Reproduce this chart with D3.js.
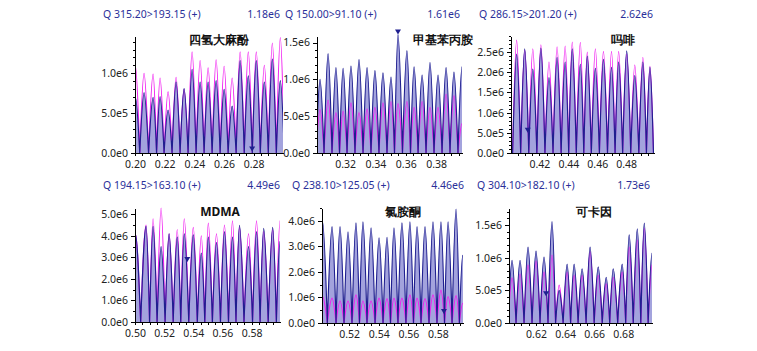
<!DOCTYPE html>
<html>
<head>
<meta charset="utf-8">
<script src="https://cdn.jsdelivr.net/npm/d3@7/dist/d3.min.js"></script>
<style>
body { margin: 0; background: #fff; }
text { font-family: "Noto Sans", "Open Sans", sans-serif; }
</style>
</head>
<body>
<div id="chart-area"></div>
<script>
/*
*    six MRM chromatogram panels
*    intensities below are in millions of counts
*/

var titles = ["Q 315.20>193.15 (+)", "Q 150.00>91.10 (+)", "Q 286.15>201.20 (+)",
              "Q 194.15>163.10 (+)", "Q 238.10>125.05 (+)", "Q 304.10>182.10 (+)"]
var maxLabels = ["1.18e6", "1.61e6", "2.62e6", "4.49e6", "4.46e6", "1.73e6"]
var names = ["四氢大麻酚", "甲基苯丙胺", "吗啡", "MDMA", "氯胺酮", "可卡因"]

// time ranges (min) and intensity ranges
var xDomains = [[0.200, 0.2998], [0.3015, 0.3971], [0.4003, 0.4993],
                [0.500, 0.5995], [0.5016, 0.5970], [0.6014, 0.6998]]
var yMax = [1.47, 1.59, 2.90, 5.30, 4.50, 1.76]
var yMajorTicks = [[0, 0.5, 1.0], [0, 0.5, 1.0, 1.5], [0, 0.5, 1.0, 1.5, 2.0, 2.5],
                   [0, 1, 2, 3, 4, 5], [0, 1, 2, 3, 4], [0, 0.5, 1.0, 1.5]]
var yMinorStep = [0.1, 0.1, 0.1, 0.5, 0.5, 0.1]

// peak apex times and heights
var p1Times = [0.2003, 0.2061, 0.2122, 0.2169, 0.2223, 0.2277, 0.2331, 0.2385, 0.2439, 0.2493,
               0.2547, 0.2601, 0.2655, 0.2709, 0.2764, 0.2818, 0.2872, 0.2926, 0.2980]
var p1Navy = [0.70, 0.76, 0.70, 0.71, 0.54, 0.89, 0.81, 1.05, 0.89, 0.89,
              0.91, 0.80, 0.59, 1.16, 0.97, 1.16, 0.89, 1.18, 0.91]
var p1Magenta = [1.09, 1.00, 0.99, 0.94, 0.77, 0.95, 0.80, 1.27, 1.16, 1.07,
                 1.17, 1.09, 0.94, 1.27, 1.27, 1.27, 1.10, 1.38, 1.45]

var p2Times = [0.3035, 0.3088, 0.3140, 0.3187, 0.3239, 0.3292, 0.3345, 0.3397, 0.3450, 0.3503,
               0.3549, 0.3608, 0.3655, 0.3708, 0.3760, 0.3813, 0.3866, 0.3918, 0.3971]
var p2Navy = [1.00, 1.35, 1.16, 1.15, 1.18, 1.27, 1.16, 1.12, 1.09, 1.03,
              1.61, 1.39, 1.17, 1.06, 1.23, 1.06, 1.16, 1.10, 1.17]
var p2Magenta = [0.59, 0.72, 0.55, 0.57, 0.68, 0.55, 0.60, 0.62, 0.68, 0.70,
                 0.67, 0.70, 0.62, 0.70, 0.62, 0.62, 0.80, 0.78, 0.40]

var p3Times = [0.4042, 0.4098, 0.4154, 0.4210, 0.4266, 0.4322, 0.4378, 0.4427, 0.4483,
               0.4531, 0.4587, 0.4643, 0.4699, 0.4748, 0.4804, 0.4860, 0.4916, 0.4965]
var p3Navy = [2.45, 2.58, 2.08, 2.60, 1.87, 2.37, 2.25, 2.58, 2.20,
              2.40, 2.10, 2.32, 2.12, 2.25, 2.53, 1.92, 2.25, 2.12]
var p3Magenta = [2.80, 2.55, 2.58, 2.68, 2.25, 2.63, 2.65, 2.75, 2.74,
                 2.50, 2.58, 2.52, 2.52, 2.52, 2.45, 2.18, 2.37, 2.15]

var p4Times = [0.5002, 0.5076, 0.5124, 0.5179, 0.5234, 0.5290, 0.5338, 0.5400, 0.5455, 0.5503,
               0.5559, 0.5614, 0.5669, 0.5717, 0.5779, 0.5834, 0.5883, 0.5945, 0.5995]
var p4Navy = [4.10, 4.45, 4.45, 3.50, 4.10, 3.95, 4.10, 4.05, 3.20, 3.95,
              3.70, 4.20, 3.95, 4.49, 3.50, 4.20, 4.35, 4.40, 3.75]
var p4Magenta = [4.10, 4.50, 4.80, 5.30, 4.10, 4.30, 4.80, 4.40, 4.00, 4.60,
                 4.10, 4.50, 4.70, 4.40, 4.10, 4.70, 4.20, 4.30, 4.70]

var p5Times = [0.5020, 0.5084, 0.5138, 0.5192, 0.5246, 0.5293, 0.5348, 0.5402, 0.5456, 0.5503,
               0.5557, 0.5611, 0.5659, 0.5713, 0.5767, 0.5821, 0.5869, 0.5923, 0.5968]
var p5Navy = [3.96, 3.77, 3.77, 3.57, 3.92, 3.96, 3.72, 3.33, 3.35, 3.72,
              3.92, 3.96, 3.77, 3.77, 3.96, 3.96, 3.96, 4.46, 2.65]
var p5Magenta = [1.03, 0.97, 0.86, 0.86, 1.10, 0.86, 0.86, 0.97, 0.95, 0.97,
                 0.97, 1.10, 0.97, 0.95, 1.10, 1.29, 1.03, 1.07, 0.77]

var p6Times = [0.6035, 0.6090, 0.6145, 0.6200, 0.6255, 0.6310, 0.6359, 0.6414, 0.6462, 0.6517,
               0.6572, 0.6628, 0.6683, 0.6731, 0.6793, 0.6841, 0.6897, 0.6945, 0.6998]
var p6Navy = [0.96, 0.96, 1.16, 1.10, 1.01, 1.55, 0.50, 0.90, 0.90, 0.83,
              1.16, 0.86, 0.70, 0.83, 0.90, 1.35, 1.44, 1.53, 1.07]
var p6Magenta = [0.69, 0.75, 0.89, 0.95, 0.78, 1.04, 0.58, 0.78, 0.73, 0.73,
                 1.09, 0.73, 0.60, 0.70, 0.78, 1.16, 1.27, 1.45, 0.89]

// retention-time markers [time, intensity]
var markers = [[0.2790, 0.02], [0.3549, 1.61], [0.4119, 0.50],
               [0.5359, 2.79], [0.5841, 0.35], [0.6269, 0.41]]

var series = [
    {t: p1Times, navy: p1Navy, mag: p1Magenta},
    {t: p2Times, navy: p2Navy, mag: p2Magenta},
    {t: p3Times, navy: p3Navy, mag: p3Magenta},
    {t: p4Times, navy: p4Navy, mag: p4Magenta},
    {t: p5Times, navy: p5Navy, mag: p5Magenta},
    {t: p6Times, navy: p6Navy, mag: p6Magenta}
]

// pixel layout of each panel
var lay = [
    {l: 135, r: 283, top: 36, bot: 153, tx: 103, ty: 18, mx: 280, nx: 219, ny: 44},
    {l: 317, r: 462, top: 36, bot: 153, tx: 285, ty: 18, mx: 460, nx: 443, ny: 44},
    {l: 511, r: 654, top: 36, bot: 153, tx: 479, ty: 18, mx: 653, nx: 623, ny: 44},
    {l: 135, r: 280, top: 208, bot: 322, tx: 103, ty: 189, mx: 280, nx: 220, ny: 216},
    {l: 322, r: 463, top: 208, bot: 323, tx: 292, ty: 189, mx: 464, nx: 403, ny: 216},
    {l: 509, r: 652, top: 208, bot: 323, tx: 477, ty: 189, mx: 650, nx: 594, ny: 216}
]

var navyCol = "#1f1f8f"
var fillCol = "#4848bc"
var magCol = "#f020f0"
var titleCol = "#2a2f99"

var svg = d3.select("#chart-area").append("svg")
    .attr("width", 757)
    .attr("height", 351)

var sci = v => d3.format(".1e")(v * 1e6).replace("e+", "e")

series.forEach((s, i) => drawPanel(s, lay[i], i))

function drawPanel(s, L, i) {
    var g = svg.append("g")
    var x = d3.scaleLinear().domain(xDomains[i]).range([L.l, L.r])
    var y = d3.scaleLinear().domain([0, yMax[i]]).range([L.bot, L.top])

    g.append("clipPath").attr("id", "clip" + i)
        .append("rect")
        .attr("x", L.l).attr("y", L.top - 8)
        .attr("width", L.r - L.l).attr("height", L.bot - L.top + 8)

    // one segment per peak: valley -> apex -> valley, valleys half way between apexes
    var segs = vals => s.t.map((t, k) => {
        var prev = k > 0 ? s.t[k - 1] : t - (s.t[1] - s.t[0])
        var next = k < s.t.length - 1 ? s.t[k + 1] : t + (t - s.t[k - 1])
        return [[(prev + t) / 2, 0], [t, vals[k]], [(t + next) / 2, 0]]
    })

    var line = d3.line()
        .x(d => x(d[0]))
        .y(d => y(d[1]))
        .curve(d3.curveMonotoneX)

    var area = d3.area()
        .x(d => x(d[0]))
        .y0(L.bot)
        .y1(d => y(d[1]))
        .curve(d3.curveMonotoneX)

    var plot = g.append("g").attr("clip-path", "url(#clip" + i + ")")

    plot.append("path")
        .attr("d", segs(s.navy).map(area).join(""))
        .attr("fill", fillCol)
        .attr("fill-opacity", 0.5)

    plot.append("path")
        .attr("d", segs(s.mag).map(line).join(""))
        .attr("fill", "none")
        .attr("stroke", magCol)
        .attr("stroke-width", 1.2)

    plot.append("path")
        .attr("d", segs(s.navy).map(line).join(""))
        .attr("fill", "none")
        .attr("stroke", navyCol)
        .attr("stroke-width", 1.2)

    // marker triangle
    var mk = markers[i]
    var mx = x(mk[0]), my = y(mk[1])
    g.append("path")
        .attr("d", "M" + (mx - 3) + "," + (my - 5) + "L" + (mx + 3) + "," + (my - 5) + "L" + mx + "," + my + "Z")
        .attr("fill", navyCol)

    // x axis
    var d0 = xDomains[i][0], d1 = xDomains[i][1]
    var minorX = d3.range(Math.ceil(d0 / 0.005 - 1e-6), Math.floor(d1 / 0.005 + 1e-6) + 1).map(k => k * 0.005)
    var majorX = d3.range(Math.ceil(d0 / 0.02 - 1e-6), Math.floor(d1 / 0.02 + 1e-6) + 1).map(k => k * 0.02)

    g.append("g")
        .attr("transform", "translate(0," + L.bot + ")")
        .call(d3.axisBottom(x).tickValues(minorX).tickSize(3).tickSizeOuter(0).tickFormat(""))
    var xa = g.append("g")
        .attr("transform", "translate(0," + L.bot + ")")
        .call(d3.axisBottom(x).tickValues(majorX).tickSize(3).tickSizeOuter(0).tickPadding(5)
            .tickFormat(d3.format(".2f")))
    xa.select(".domain").remove()

    // y axis
    var minorY = d3.range(0, yMax[i] + 1e-9, yMinorStep[i])
    g.append("g")
        .attr("transform", "translate(" + L.l + ",0)")
        .call(d3.axisLeft(y).tickValues(minorY).tickSize(2).tickSizeOuter(0).tickFormat(""))
    var ya = g.append("g")
        .attr("transform", "translate(" + L.l + ",0)")
        .call(d3.axisLeft(y).tickValues(yMajorTicks[i]).tickSize(4).tickSizeOuter(0).tickPadding(3)
            .tickFormat(sci))
    ya.select(".domain").remove()

    g.selectAll(".tick text").attr("font-size", "10.5px").attr("fill", "#222")
        .attr("font-family", "'Noto Sans', sans-serif")
    g.selectAll(".domain, .tick line").attr("stroke", "#000").attr("shape-rendering", "crispEdges")

    // titles
    g.append("text")
        .attr("x", L.tx).attr("y", L.ty)
        .attr("font-size", "10.5px")
        .attr("fill", titleCol)
        .text(titles[i])

    g.append("text")
        .attr("x", L.mx).attr("y", L.ty)
        .attr("text-anchor", "end")
        .attr("font-size", "10.5px")
        .attr("fill", titleCol)
        .text(maxLabels[i])

    g.append("text")
        .attr("x", L.nx).attr("y", L.ny)
        .attr("text-anchor", "middle")
        .attr("font-size", "12px")
        .attr("font-family", "'Noto Sans CJK SC', 'Noto Sans', sans-serif")
        .attr("font-weight", "bold")
        .attr("fill", "#111")
        .text(names[i])
}
</script>
</body>
</html>
